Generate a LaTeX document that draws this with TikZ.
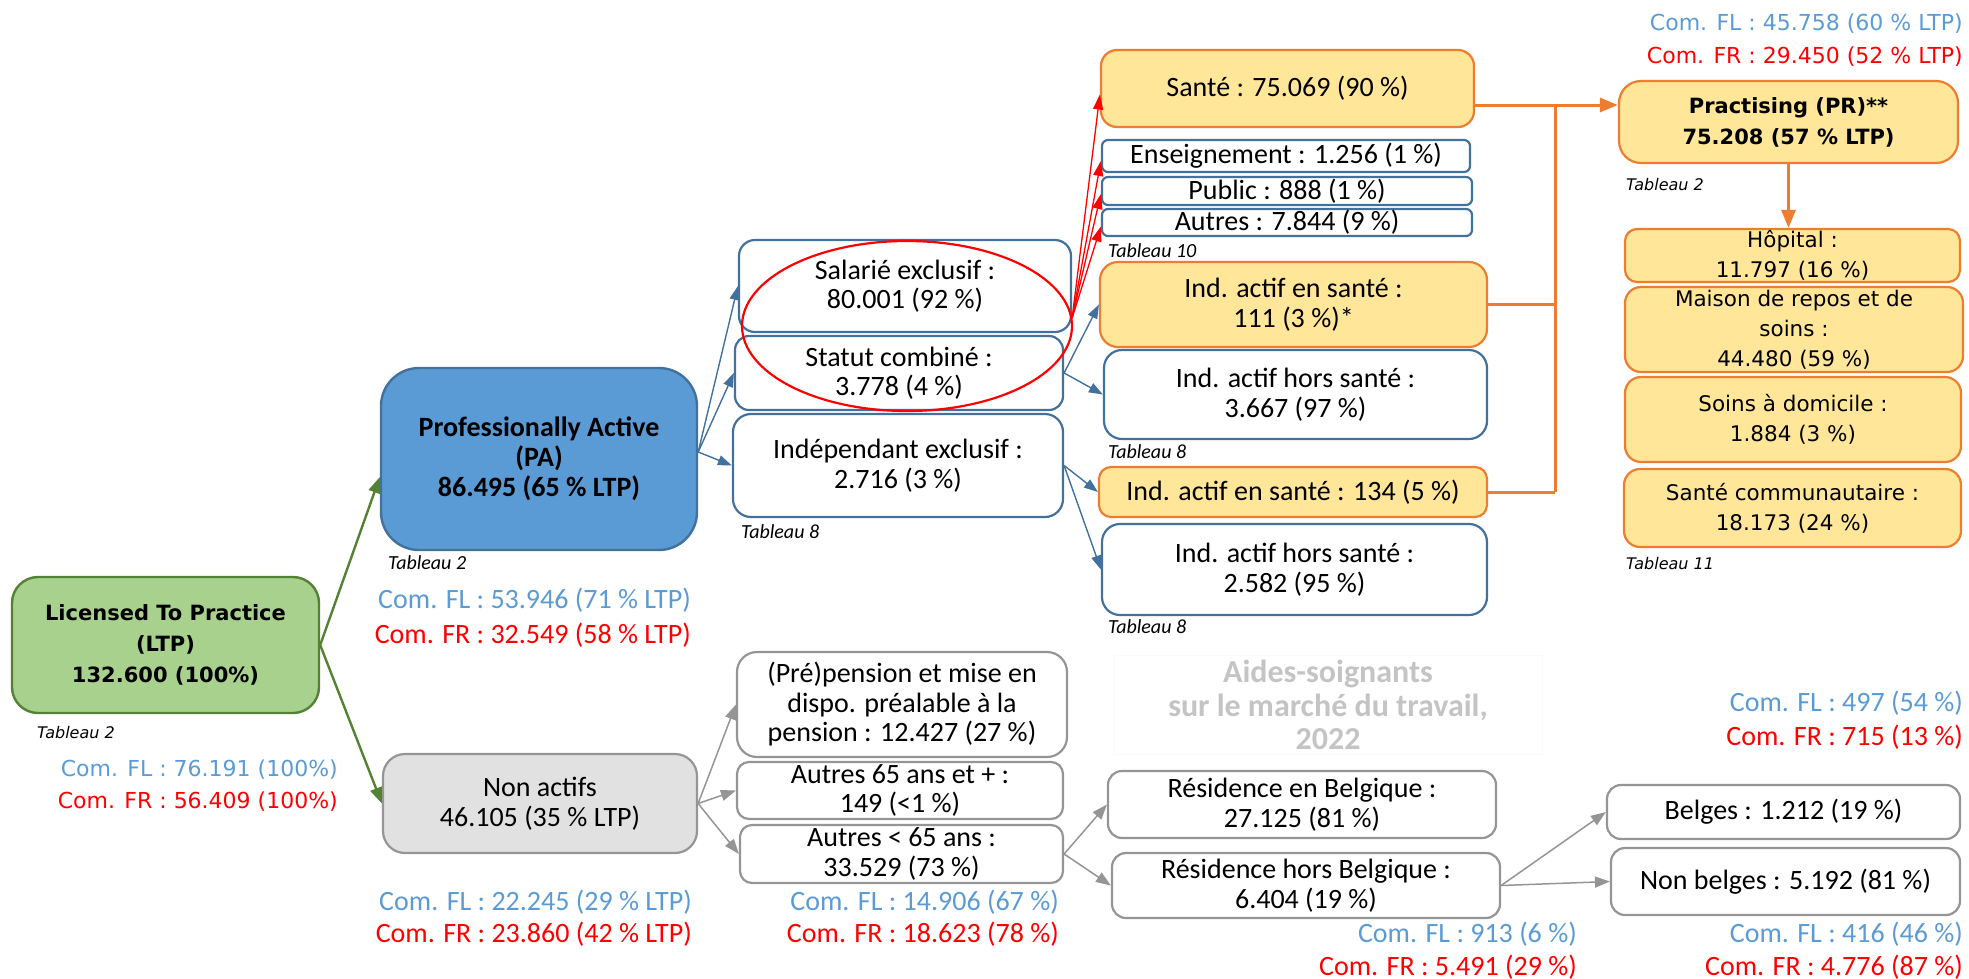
\documentclass[tikz,border=0pt]{standalone}
\usepackage{fontspec}
\setmainfont{Carlito}
\newfontfamily\vfont{DejaVu Sans}
\usetikzlibrary{arrows.meta,calc}
\definecolor{bline}{HTML}{41719C}
\definecolor{oline}{HTML}{ED7D31}
\definecolor{ofill}{HTML}{FFE699}
\definecolor{gline}{HTML}{548235}
\definecolor{gfill}{HTML}{A9D18E}
\definecolor{pafill}{HTML}{5B9BD5}
\definecolor{comblue}{HTML}{5B9BD5}
\definecolor{grayline}{HTML}{959595}
\definecolor{nafill}{HTML}{E1E1E1}
\definecolor{aidesgray}{HTML}{C4C4C4}
\newcommand\fcal{\fontsize{28}{29.5}\selectfont}
\newcommand\fcalb{\fontsize{28}{30}\selectfont\bfseries}
\newcommand\ftab{\fontsize{20}{22}\selectfont\itshape}
\newcommand\fver{\vfont\fontsize{21.5}{30}\selectfont}
\newcommand\fverb{\vfont\fontsize{21}{31}\selectfont\bfseries}
\newcommand\fvtab{\vfont\fontsize{16}{18}\selectfont\itshape}
\newcommand\fvcom{\vfont\fontsize{22}{33}\selectfont}
\tikzset{
  bx/.style={draw, rounded corners=14pt, line width=2.2pt, align=center, inner sep=0pt, font=\fcal},
  bluebox/.style={bx, draw=bline, fill=white},
  orbox/.style={bx, draw=oline, fill=ofill},
  graybox/.style={bx, draw=grayline, fill=white},
  rorbox/.style={bx, draw=oline, fill=ofill, font=\fver},
  tabl/.style={anchor=west, inner sep=0pt, font=\ftab},
  vtabl/.style={anchor=west, inner sep=0pt, font=\fvtab},
  fl/.style={anchor=east, inner sep=0pt, font=\fcal, text=comblue},
  fr/.style={anchor=east, inner sep=0pt, font=\fcal, text=red},
  barrow/.style={draw=bline, line width=1.4pt, -{Triangle[length=14pt,width=10pt]}},
  rarrow/.style={draw=red, line width=1.3pt, -{Triangle[length=15pt,width=10pt]}},
  garrow/.style={draw=gline, line width=2.4pt, -{Triangle[length=16pt,width=12pt]}},
  grarrow/.style={draw=grayline, line width=1.5pt, -{Triangle[length=15pt,width=11pt]}},
  olink/.style={draw=oline, line width=3pt},
}
\begin{document}
\begin{tikzpicture}[x=1pt,y=-1pt]
\useasboundingbox (0,0) rectangle (1969,978);

% ---------- main boxes ----------
\node[bx, draw=gline, fill=gfill, rounded corners=26pt, line width=2.4pt, font=\fverb, minimum width=307pt, minimum height=136pt] (ltp) at (165.5,645) {Licensed To Practice\\(LTP)\\132.600 (100\%)};
\node[vtabl] (ltptab) at (37,733) {Tableau 2};
\node[anchor=east, inner sep=0pt, font=\fvcom, text=comblue] (ltpfl) at (338,770) {Com. FL : 76.191 (100\%)};
\node[anchor=east, inner sep=0pt, font=\fvcom, text=red] (ltpfr) at (338,802) {Com. FR : 56.409 (100\%)};

\node[bx, draw=bline, fill=pafill, rounded corners=38pt, line width=2.4pt, font=\fcalb, minimum width=316pt, minimum height=182pt] (pa) at (539,459) {Professionally Active\\(PA)\\86.495 (65 \% LTP)};
\node[tabl] (patab) at (388,563) {Tableau 2};
\node[fl] (pafl) at (691,600) {Com. FL : 53.946 (71 \% LTP)};
\node[fr] (pafr) at (691,635) {Com. FR : 32.549 (58 \% LTP)};

\node[bx, draw=grayline, fill=nafill, rounded corners=22pt, minimum width=314pt, minimum height=99pt] (na) at (540,803.5) {Non actifs\\46.105 (35 \% LTP)};
\node[fl] (nafl) at (692,902) {Com. FL : 22.245 (29 \% LTP)};
\node[fr] (nafr) at (692,934) {Com. FR : 23.860 (42 \% LTP)};

% ---------- PA children ----------
\node[bluebox, rounded corners=16pt, minimum width=332pt, minimum height=92pt] (sal) at (905,286) {Salarié exclusif :\\80.001 (92 \%)};
\node[bluebox, rounded corners=14pt, minimum width=328pt, minimum height=74pt] (stat) at (899,373) {Statut combiné :\\3.778 (4 \%)};
\node[bluebox, rounded corners=18pt, minimum width=330pt, minimum height=103pt] (indep) at (898,465.5) {Indépendant exclusif :\\2.716 (3 \%)};
\node[tabl] (indtab) at (741,532) {Tableau 8};

% ---------- salarié children ----------
\node[orbox, rounded corners=16pt, minimum width=373pt, minimum height=77pt] (sante) at (1287.5,88.5) {Santé : 75.069 (90 \%)};
\node[bluebox, rounded corners=6pt, minimum width=368pt, minimum height=32pt] (ens) at (1286,156) {Enseignement : 1.256 (1 \%)};
\node[bluebox, rounded corners=6pt, minimum width=370pt, minimum height=28pt] (pub) at (1287,191) {Public : 888 (1 \%)};
\node[bluebox, rounded corners=6pt, minimum width=370pt, minimum height=27pt] (aut) at (1287,222.5) {Autres : 7.844 (9 \%)};
\node[tabl] (tab10) at (1108,251) {Tableau 10};

% ---------- combined / independent children ----------
\node[orbox, rounded corners=18pt, minimum width=387pt, minimum height=85pt] (ia1) at (1293.5,304.5) {Ind. actif en santé :\\111 (3 \%)*};
\node[bluebox, rounded corners=18pt, minimum width=383pt, minimum height=89pt] (ih1) at (1295.5,394.5) {Ind. actif hors santé :\\3.667 (97 \%)};
\node[tabl] (tab8a) at (1108,452) {Tableau 8};
\node[orbox, rounded corners=12pt, minimum width=388pt, minimum height=50pt] (ia2) at (1293,492) {Ind. actif en santé : 134 (5 \%)};
\node[bluebox, rounded corners=18pt, minimum width=385pt, minimum height=91pt] (ih2) at (1294.5,569.5) {Ind. actif hors santé :\\2.582 (95 \%)};
\node[tabl] (tab8b) at (1108,627) {Tableau 8};

% ---------- Practising ----------
\node[anchor=east, inner sep=0pt, font=\fvcom, text=comblue] (prfl) at (1963,24) {Com. FL : 45.758 (60 \% LTP)};
\node[anchor=east, inner sep=0pt, font=\fvcom, text=red] (prfr) at (1963,57) {Com. FR : 29.450 (52 \% LTP)};
\node[bx, draw=oline, fill=ofill, rounded corners=22pt, font=\fverb, minimum width=339pt, minimum height=82pt] (pr) at (1788.5,122) {Practising (PR)**\\75.208 (57 \% LTP)};
\node[vtabl] (prtab) at (1626,185) {Tableau 2};
\node[rorbox, rounded corners=12pt, minimum width=335pt, minimum height=53pt] (hop) at (1792.5,255.5) {Hôpital :\\11.797 (16 \%)};
\node[rorbox, rounded corners=16pt, minimum width=338pt, minimum height=85pt] (mais) at (1794,329.5) {Maison de repos et de\\soins :\\44.480 (59 \%)};
\node[rorbox, rounded corners=16pt, minimum width=336pt, minimum height=85pt] (soins) at (1793,419.5) {Soins à domicile :\\1.884 (3 \%)};
\node[rorbox, rounded corners=16pt, minimum width=337pt, minimum height=78pt] (scom) at (1792.5,508) {Santé communautaire :\\18.173 (24 \%)};
\node[vtabl] (tab11) at (1626,564) {Tableau 11};

% ---------- non actifs children ----------
\node[graybox, rounded corners=20pt, minimum width=330pt, minimum height=105pt] (prep) at (902,704.5) {(Pré)pension et mise en\\dispo. préalable à la\\pension : 12.427 (27 \%)};
\node[graybox, rounded corners=12pt, minimum width=326pt, minimum height=57pt] (a65) at (900,790.5) {Autres 65 ans et + :\\149 (<1 \%)};
\node[graybox, rounded corners=12pt, minimum width=323pt, minimum height=58pt] (a65m) at (901.5,854) {Autres < 65 ans :\\33.529 (73 \%)};
\node[fl] (a65fl) at (1059,902) {Com. FL : 14.906 (67 \%)};
\node[fr] (a65fr) at (1059,934) {Com. FR : 18.623 (78 \%)};

\node[draw=black!2, line width=0.6pt, minimum width=428pt, minimum height=99pt, align=center, inner sep=0pt, font=\fontsize{32}{33.5}\selectfont\bfseries, text=aidesgray] (aides) at (1328,705) {Aides-soignants\\sur le marché du travail,\\2022};

\node[graybox, rounded corners=14pt, minimum width=388pt, minimum height=67pt] (resb) at (1302,804.5) {Résidence en Belgique :\\27.125 (81 \%)};
\node[graybox, rounded corners=14pt, minimum width=388pt, minimum height=65pt] (resh) at (1306,885.5) {Résidence hors Belgique :\\6.404 (19 \%)};
\node[fl] (reshfl) at (1577,934) {Com. FL : 913 (6 \%)};
\node[fr] (reshfr) at (1577,967) {Com. FR : 5.491 (29 \%)};

\node[graybox, rounded corners=14pt, minimum width=353pt, minimum height=54pt] (bel) at (1783.5,812) {Belges : 1.212 (19 \%)};
\node[graybox, rounded corners=14pt, minimum width=349pt, minimum height=67pt] (nbel) at (1785.5,881.5) {Non belges : 5.192 (81 \%)};
\node[fl] (belfl) at (1963,703) {Com. FL : 497 (54 \%)};
\node[fr] (belfr) at (1963,737) {Com. FR : 715 (13 \%)};
\node[fl] (nbelfl) at (1963,934) {Com. FL : 416 (46 \%)};
\node[fr] (nbelfr) at (1963,967) {Com. FR : 4.776 (87 \%)};

% ---------- connectors ----------
\draw[garrow] (ltp.east) -- ($(pa.west)+(0,18)$);
\draw[garrow] (ltp.east) -- (na.west);

\draw[barrow] ($(pa.east)+(0,-7)$) -- (sal.west);
\draw[barrow] ($(pa.east)+(0,-7)$) -- (stat.west);
\draw[barrow] ($(pa.east)+(0,-7)$) -- (indep.west);

\draw[rarrow] ($(sal.south east)+(0,-15)$) -- ($(sante.west)+(0,6)$);
\draw[rarrow] ($(sal.south east)+(0,-15)$) -- ($(ens.west)+(0,5)$);
\draw[rarrow] ($(sal.south east)+(0,-15)$) -- ($(pub.west)+(0,3)$);
\draw[rarrow] ($(sal.south east)+(0,-15)$) -- ($(aut.west)+(0,4)$);

\draw[barrow] (stat.east) -- (ia1.west);
\draw[barrow] (stat.east) -- (ih1.west);
\draw[barrow] (indep.east) -- (ia2.west);
\draw[barrow] (indep.east) -- (ih2.west);

\coordinate (jn) at (1555,105);
\draw[olink] (sante.east |- jn) -- (jn);
\draw[olink, -{Triangle[length=18pt,width=14pt]}] (jn) -- (jn -| pr.west);
\draw[olink] (jn) -- (jn |- ia2.east);
\draw[olink] (ia1.east) -- (ia1.east -| jn);
\draw[olink] (ia2.east) -- (ia2.east -| jn);
\draw[olink, -{Triangle[length=18pt,width=14pt]}] (pr.south) -- (pr.south |- hop.north);

\draw[grarrow] (na.east) -- (prep.west);
\draw[grarrow] (na.east) -- (a65.west);
\draw[grarrow] (na.east) -- (a65m.west);
\draw[grarrow] (a65m.east) -- (resb.west);
\draw[grarrow] (a65m.east) -- (resh.west);
\draw[grarrow] (resh.east) -- (bel.west);
\draw[grarrow] (resh.east) -- (nbel.west);

% red ellipse
\draw[red, line width=2.2pt] (907,326) ellipse [x radius=165pt, y radius=85pt];
\end{tikzpicture}
\end{document}
